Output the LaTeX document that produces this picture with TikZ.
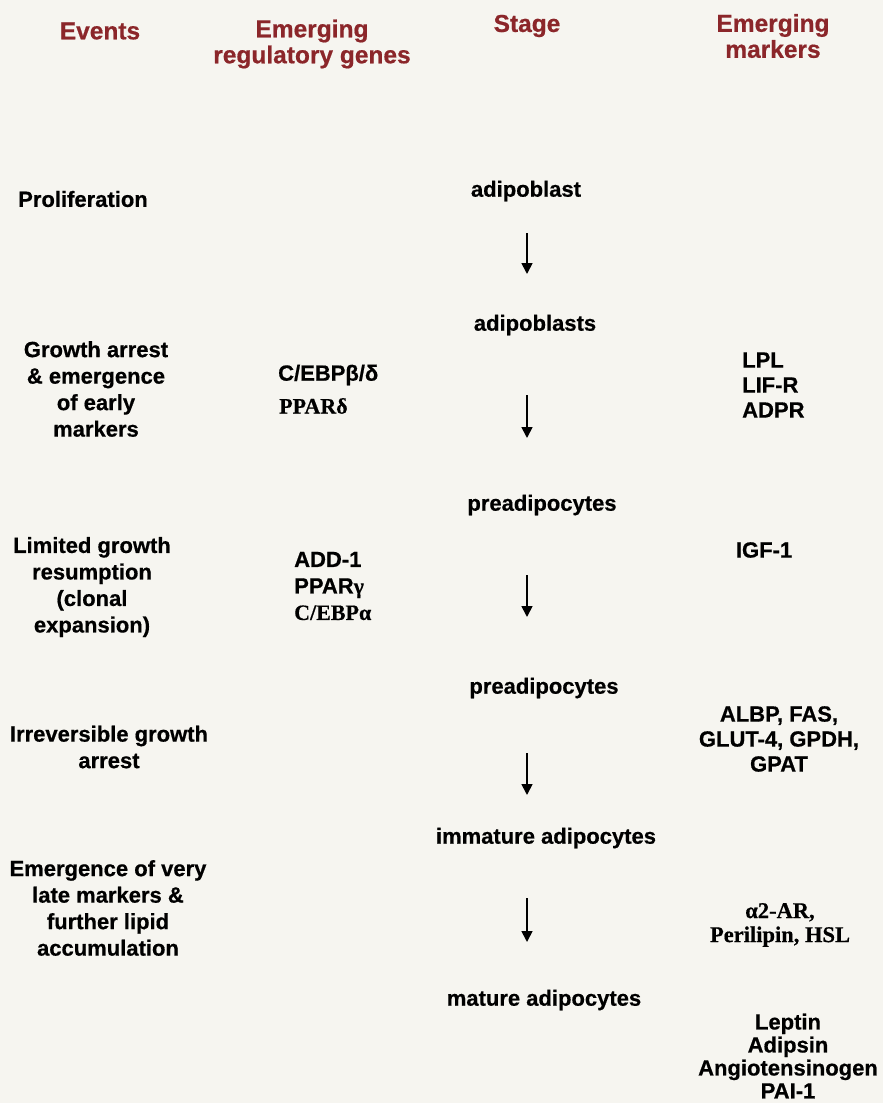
\documentclass[tikz,border=0pt]{standalone}
\usepackage{fontspec}
\setmainfont{Liberation Sans}[BoldFeatures={FakeBold=0.6}]
\newfontfamily\timesfont{Liberation Serif}[BoldFeatures={FakeBold=0.5}]
\usetikzlibrary{arrows.meta}
\definecolor{headred}{RGB}{139,38,42}
\definecolor{paper}{RGB}{246,245,240}
\tikzset{
  head/.style={text=headred, align=center, inner sep=0pt, font=\fontsize{24.5}{26}\selectfont\bfseries},
  event/.style={align=center, inner sep=0pt, font=\fontsize{22}{26.5}\selectfont\bfseries},
  gene/.style={anchor=west, align=left, inner sep=0pt, font=\fontsize{22}{26.5}\selectfont\bfseries},
  stage/.style={inner sep=0pt, font=\fontsize{22}{26.5}\selectfont\bfseries},
  marker/.style={align=center, inner sep=0pt, font=\fontsize{22}{25}\selectfont\bfseries},
  flow/.style={-{Triangle[length=11pt,width=11pt]}, line width=1.7pt},
}

\begin{document}
\begin{tikzpicture}[x=1pt, y=-1pt]
  \fill[paper] (0,0) rectangle (883,1103);
  \useasboundingbox (0,0) rectangle (883,1103);
  % column heads
  \node[head] (headEvents) at (100,31) {Events};
  \node[head] (headGenes) at (312,44) {Emerging\\regulatory genes};
  \node[head] (headStage) at (527,26) {Stage};
  \node[head] (headMarkers) at (773,36) {Emerging\\markers};

  \node[event] (event1) at (83,199) {Proliferation};
  \node[event] (event2) at (96,389) {Growth arrest\\\& emergence\\of early\\markers};
  \node[event] (event3) at (92,587) {Limited growth\\resumption\\(clonal\\expansion)};
  \node[event] (event4) at (109,747) {Irreversible growth\\arrest};
  \node[event] (event5) at (108,908) {Emergence of very\\late markers \&\\further lipid\\accumulation};

  \node[gene] (gene1) at (278,375) {C/EBPβ/δ};
  \node[gene] (gene2) at (279,406) {\timesfont PPARδ};
  \node[gene] (gene3) at (294,586) {ADD-1\\PPAR{\timesfont γ}\\{\timesfont C/EBPα}};

  \node[stage] (stage1) at (526,191) {adipoblast};
  \node[stage] (stage2) at (535,325) {adipoblasts};
  \node[stage] (stage3) at (542,505) {preadipocytes};
  \node[stage] (stage4) at (544,688) {preadipocytes};
  \node[stage] (stage5) at (546,838) {immature adipocytes};
  \node[stage] (stage6) at (544,1000) {mature adipocytes};

  \node[marker, align=left] (marker1) at (742,385) [anchor=west] {LPL\\LIF-R\\ADPR};
  \node[marker] (marker2) at (764,550) {IGF-1};
  \node[marker] (marker3) at (779,739) {ALBP, FAS,\\GLUT-4, GPDH,\\GPAT};
  \node[marker, font=\fontsize{22.5}{24}\selectfont\bfseries\timesfont] (marker4) at (780,925) {α2-AR,\\Perilipin, HSL};
  \node[marker, font=\fontsize{22}{23}\selectfont\bfseries] (marker5) at (788,1056) {Leptin\\Adipsin\\Angiotensinogen\\PAI-1};

  % arrows down the stage column
  \coordinate (axis) at (527,0);
  \draw[flow, shorten <=42pt, shorten >=51pt] (stage1 -| axis) -- (stage2 -| axis);
  \draw[flow, shorten <=70pt, shorten >=67pt] (stage2 -| axis) -- (stage3 -| axis);
  \draw[flow, shorten <=70pt, shorten >=71pt] (stage3 -| axis) -- (stage4 -| axis);
  \draw[flow, shorten <=65pt, shorten >=43pt] (stage4 -| axis) -- (stage5 -| axis);
  \draw[flow, shorten <=60pt, shorten >=58pt] (stage5 -| axis) -- (stage6 -| axis);
\end{tikzpicture}
\end{document}
